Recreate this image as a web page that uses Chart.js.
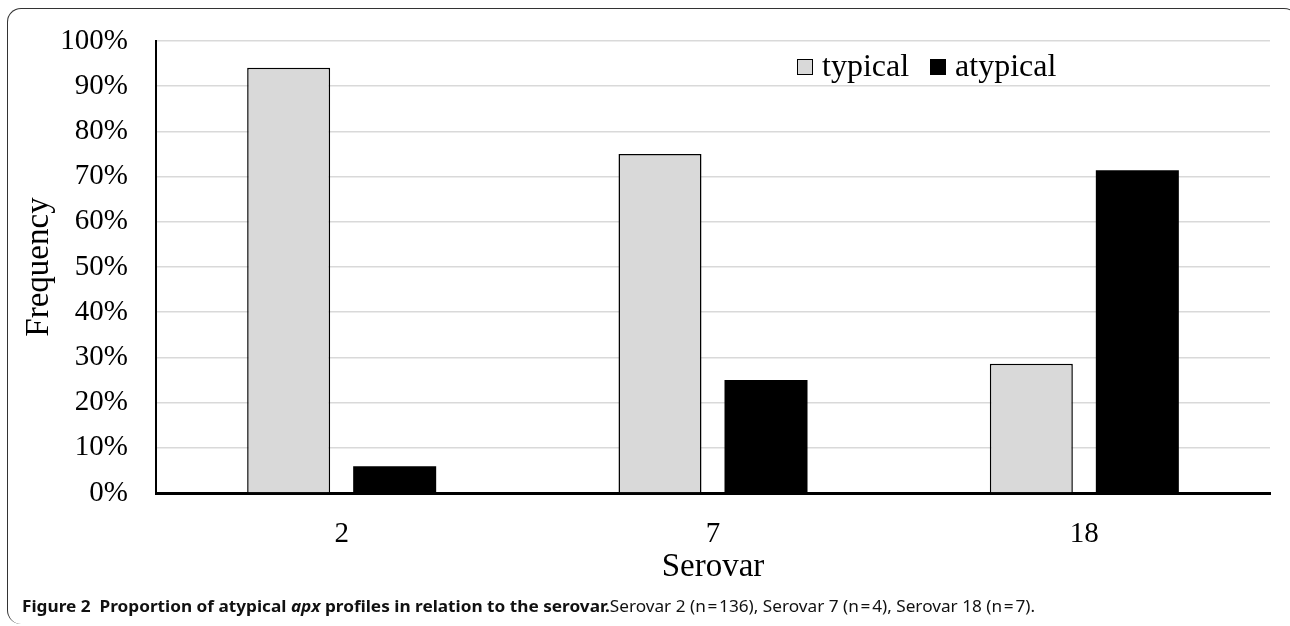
<!DOCTYPE html>
<html>
<head>
<meta charset="utf-8">
<script src="https://cdn.jsdelivr.net/npm/chart.js@4.4.1/dist/chart.umd.min.js"></script>
<style>
  html, body { margin: 0; padding: 0; background: #fff; }
  #wrap { position: relative; width: 1290px; height: 626px; overflow: hidden; background: #fff; }
  #frame { position: absolute; left: 7px; top: 8px; width: 1290px; height: 615px;
           border-top: 1.3px solid #333; border-left: 1.3px solid #333; border-radius: 14px; }
  #chart { position: absolute; left: 0; top: 0; }
  #legend { position: absolute; left: 797px; top: 47px; display: flex; align-items: center;
            font-family: "Liberation Serif", "Times New Roman", serif; font-size: 32px; line-height: 36px; color: #000; }
  #legend .box { width: 14px; height: 14px; border: 1.2px solid #000; display: inline-block; margin-top: 3px; }
  #caption { position: absolute; left: 22px; top: 596px; white-space: nowrap; transform-origin: 0 0;
             font-family: "Noto Sans", "Open Sans", sans-serif; font-size: 16.5px; line-height: 20px; color: #111; }
  #caption b { font-weight: 700; }
</style>
</head>
<body>
<div id="wrap">
  <div id="frame"></div>
  <canvas id="chart" width="1290" height="626"></canvas>
  <div id="legend"></div>
  <div id="caption"><b>Figure 2&nbsp; Proportion of atypical <i>apx</i> profiles in relation to the serovar.</b>Serovar 2 (n&#8202;=&#8202;136), Serovar 7 (n&#8202;=&#8202;4), Serovar 18 (n&#8202;=&#8202;7).</div>
</div>
<script>
// ---- data ----
const categories = ['2', '7', '18'];
const seriesNames = ['typical', 'atypical'];
const typicalValues = [94.1, 75.0, 28.6];
const atypicalValues = [5.9, 25.0, 71.4];
const yTickValues = [0, 10, 20, 30, 40, 50, 60, 70, 80, 90, 100];
const xTitle = 'Serovar';
const yTitle = 'Frequency';

// ---- styles ----
const serif = '"Liberation Serif", "Times New Roman", serif';
const colors = ['#d9d9d9', '#000000'];

const chart = new Chart(document.getElementById('chart'), {
  type: 'bar',
  data: {
    labels: categories,
    datasets: [
      { label: seriesNames[0], data: typicalValues, backgroundColor: colors[0], borderColor: '#000', borderWidth: 1.5 },
      { label: seriesNames[1], data: atypicalValues, backgroundColor: colors[1], borderColor: '#000', borderWidth: 0 }
    ]
  },
  options: {
    responsive: false,
    animation: false,
    devicePixelRatio: window.devicePixelRatio || 1,
    categoryPercentage: 0.571,
    barPercentage: 0.783,
    layout: { padding: { left: 0, top: 41, right: 20, bottom: 34 } },
    plugins: { legend: { display: false }, tooltip: { enabled: false } },
    scales: {
      x: {
        grid: { display: true, drawOnChartArea: false, drawTicks: false },
        border: { display: true, color: '#000', width: 3 },
        ticks: { color: '#000', font: { family: serif, size: 29 }, padding: 24, maxRotation: 0 },
        title: { display: true, text: xTitle, color: '#000', font: { family: serif, size: 33 }, padding: { top: 0, bottom: 5 } },
        afterFit: (s) => { s.height = 626 - 34 - 493; }
      },
      y: {
        min: 0, max: 100,
        afterBuildTicks: (s) => { s.ticks = yTickValues.map(v => ({ value: v })); },
        grid: { color: '#d9d9d9', lineWidth: 1.5, drawTicks: false },
        border: { display: true, color: '#000', width: 2 },
        ticks: { color: '#000', font: { family: serif, size: 29 }, padding: 28, callback: (v) => v + '%' },
        title: { display: true, text: yTitle, color: '#000', font: { family: serif, size: 33 }, padding: { top: 20, bottom: 0 } },
        afterFit: (s) => { s.width = 156; s.paddingTop = 0; s.paddingBottom = 0; }
      }
    }
  }
});

// HTML legend built from the dataset names and colours
const legend = document.getElementById('legend');
seriesNames.forEach((name, i) => {
  const box = document.createElement('span');
  box.className = 'box';
  box.style.background = colors[i];
  box.style.marginLeft = i === 0 ? '0px' : '21px';
  box.style.marginRight = '9px';
  const t = document.createElement('span');
  t.textContent = name;
  legend.appendChild(box);
  legend.appendChild(t);
});

// fit caption to its width in the reference
const cap = document.getElementById('caption');
const w = cap.getBoundingClientRect().width;
cap.style.transform = 'scaleX(' + (1013 / w) + ')';
</script>
</body>
</html>
